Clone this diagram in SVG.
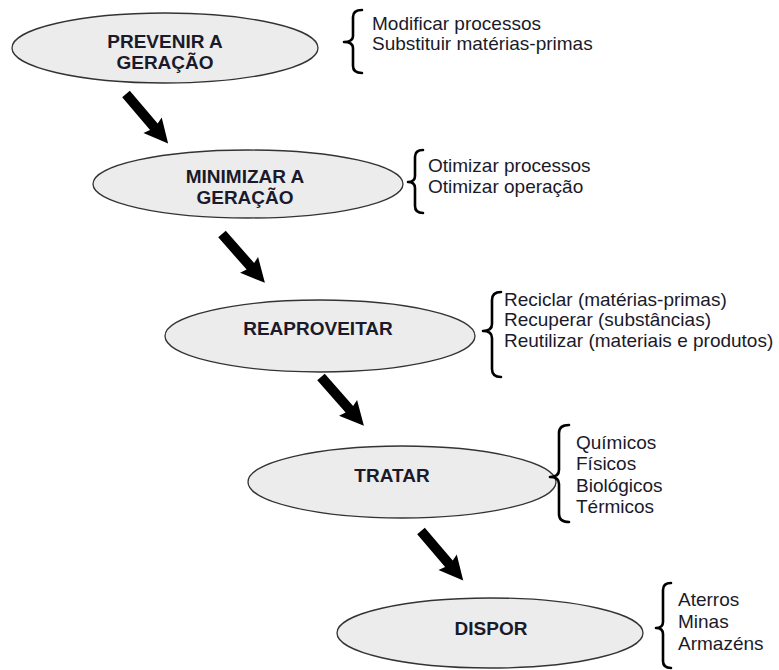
<svg xmlns="http://www.w3.org/2000/svg" xmlns:xlink="http://www.w3.org/1999/xlink" width="779" height="670" viewBox="0 0 779 670">
<defs>
<style>
.node ellipse{fill:#ececec;stroke:#333;stroke-width:1.3}
.node text{font-family:"Liberation Sans",Arial,sans-serif;font-size:19px;font-weight:bold;fill:#1a1a2a;text-anchor:middle}
.list text{font-family:"Liberation Sans",Arial,sans-serif;font-size:19px;fill:#1a1a2a}
.brace{fill:none;stroke:#000;stroke-width:2.6;stroke-linecap:round;stroke-linejoin:round}
.arrow{fill:#000}
</style>
<path id="arr" d="M0,-5 L43,-5 L41,-12 L65,0 L41,12 L43,5 L0,5 Z"/>
</defs>
<rect width="779" height="670" fill="#fff"/>
<g id="connectors">
<use xlink:href="#arr" class="arrow" transform="translate(126,94) rotate(49.6)"/>
<use xlink:href="#arr" class="arrow" transform="translate(222,234) rotate(48.7)"/>
<use xlink:href="#arr" class="arrow" transform="translate(321,377) rotate(48.7)"/>
<use xlink:href="#arr" class="arrow" transform="translate(421,531) rotate(49.5)"/>
</g>
<g id="n1" class="node">
<ellipse cx="165" cy="48" rx="153" ry="35"/>
<text x="165" y="48">PREVENIR A</text>
<text x="165" y="69">GERAÇÃO</text>
</g>
<g id="l1" class="list">
<path class="brace" d="M362,10 Q353,10 353,17 L353,36 Q353,42 344,42 Q353,42 353,48 L353,66 Q353,73 362,73"/>
<text x="372" y="30">Modificar processos</text>
<text x="372" y="50">Substituir matérias-primas</text>
</g>
<g id="n2" class="node">
<ellipse cx="248" cy="184" rx="155" ry="34"/>
<text x="245" y="183">MINIMIZAR A</text>
<text x="245" y="204">GERAÇÃO</text>
</g>
<g id="l2" class="list">
<path class="brace" d="M423,150 Q415,150 415,157 L415,176 Q415,182 408,182 Q415,182 415,188 L415,206 Q415,213 423,213"/>
<text x="428" y="172">Otimizar processos</text>
<text x="428" y="193">Otimizar operação</text>
</g>
<g id="n3" class="node">
<ellipse cx="320" cy="336" rx="155" ry="36"/>
<text x="318" y="335">REAPROVEITAR</text>
</g>
<g id="l3" class="list">
<path class="brace" d="M501,292 Q492,292 492,300 L492,324 Q492,331 483,331 Q492,331 492,338 L492,369 Q492,377 501,377"/>
<text x="504" y="306">Reciclar (matérias-primas)</text>
<text x="504" y="326">Recuperar (substâncias)</text>
<text x="504" y="347">Reutilizar (materiais e produtos)</text>
</g>
<g id="n4" class="node">
<ellipse cx="402" cy="482" rx="154" ry="36"/>
<text x="392" y="482">TRATAR</text>
</g>
<g id="l4" class="list">
<path class="brace" d="M569,425 Q559,425 559,433 L559,470 Q559,477 550,477 Q559,477 559,484 L559,514 Q559,522 569,522"/>
<text x="576" y="449">Químicos</text>
<text x="576" y="470">Físicos</text>
<text x="576" y="492">Biológicos</text>
<text x="576" y="513">Térmicos</text>
</g>
<g id="n5" class="node">
<ellipse cx="490" cy="633" rx="153" ry="35"/>
<text x="491" y="635">DISPOR</text>
</g>
<g id="l5" class="list">
<path class="brace" d="M671,583 Q663,583 663,590 L663,622 Q663,628 656,628 Q663,628 663,634 L663,661 Q663,668 671,668"/>
<text x="678" y="606">Aterros</text>
<text x="678" y="628">Minas</text>
<text x="678" y="650">Armazéns</text>
</g>
</svg>
